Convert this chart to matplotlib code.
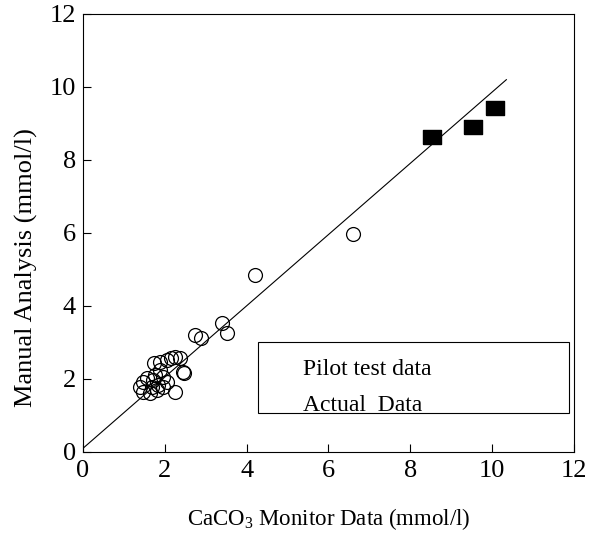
import numpy as np
import matplotlib
matplotlib.use("Agg")
import matplotlib.pyplot as plt
from matplotlib.patches import Rectangle

plt.rcParams['font.family'] = ['Liberation Serif', 'DejaVu Serif']
plt.rcParams['mathtext.default'] = 'regular'

# pilot test data (open circles)
pilot_x = [2.25, 2.15, 2.05, 1.88, 1.74, 2.44, 1.88, 1.96, 1.76, 1.56,
           1.47, 1.39, 1.47, 1.64, 1.69, 1.83, 1.96, 1.81, 1.71, 2.25,
           2.05, 2.37, 2.47, 2.74, 2.89, 3.40, 3.52, 4.21, 6.60]
pilot_y = [2.60, 2.58, 2.52, 2.47, 2.44, 2.19, 2.25, 2.05, 2.11, 2.03,
           1.92, 1.78, 1.64, 1.62, 1.78, 1.84, 1.78, 1.70, 1.97, 1.64,
           1.92, 2.58, 2.16, 3.21, 3.12, 3.53, 3.26, 4.85, 5.97]

# actual data (filled squares)
actual_x = [8.53, 9.54, 10.07]
actual_y = [8.63, 8.90, 9.42]

# fitted line
fit_x = [0.0, 10.35]
fit_y = [0.1, 10.2]

ticks = [0, 2, 4, 6, 8, 10, 12]

fig = plt.figure(figsize=(5.99, 5.38), dpi=100)
ax = fig.add_axes([0.1386, 0.160, 0.8194, 0.814])

ax.plot(fit_x, fit_y, color='black', lw=0.8)
ax.plot(pilot_x, pilot_y, linestyle='none', marker='o', markersize=10,
        markerfacecolor='none', markeredgecolor='black', markeredgewidth=0.9)
rect_marker = [(-1.3, -1), (1.3, -1), (1.3, 1), (-1.3, 1), (-1.3, -1)]
ax.plot(actual_x, actual_y, linestyle='none', marker=rect_marker, markersize=12.5,
        color='black')

ax.set_xlim(0, 12)
ax.set_ylim(0, 12)
ax.set_xticks(ticks)
ax.set_yticks(ticks)
ax.tick_params(direction='in', length=6, width=0.8, labelsize=19,
               top=False, right=False)
ax.tick_params(axis='x', pad=6)
ax.tick_params(axis='y', pad=5)
for s in ax.spines.values():
    s.set_linewidth(0.8)

ax.set_xlabel('CaCO$_3$ Monitor Data (mmol/l)', fontsize=16.5, labelpad=17)
ax.set_ylabel('Manual Analysis (mmol/l)', fontsize=19)
ax.yaxis.set_label_coords(-0.092, 0.42)

# legend box (markers not shown, as in the original)
ax.add_patch(Rectangle((0.356, 0.089), 0.634, 0.162, transform=ax.transAxes,
                       fill=False, edgecolor='black', lw=0.8))
ax.text(0.448, 0.188, 'Pilot test data', transform=ax.transAxes,
        fontsize=17, va='center', ha='left')
ax.text(0.448, 0.106, 'Actual  Data', transform=ax.transAxes,
        fontsize=17, va='center', ha='left')

fig.savefig('out.png', dpi=100)
